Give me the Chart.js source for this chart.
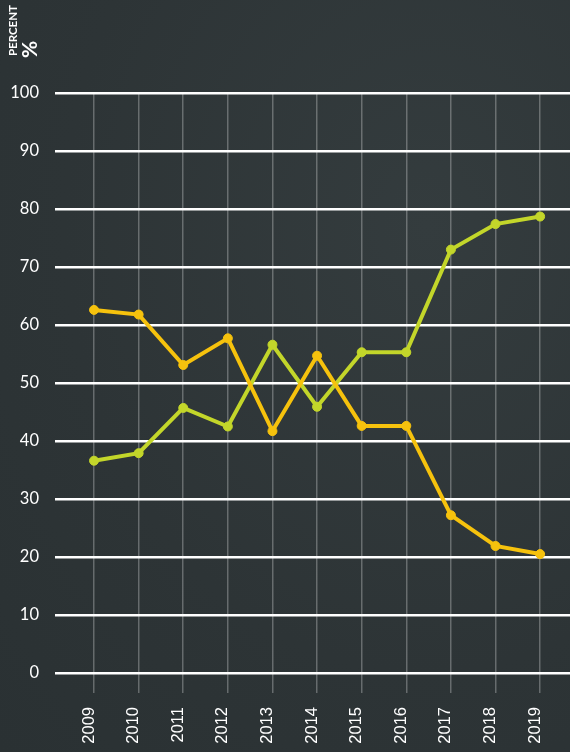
<!DOCTYPE html>
<html lang="en">
<head>
  <meta charset="UTF-8">
  <title>Percent chart</title>
  <style>
    html, body {
      margin: 0;
      padding: 0;
      width: 570px;
      height: 752px;
      overflow: hidden;
      background-color: #2e3538;
      background-image: radial-gradient(ellipse at 75% 30%, #343c3e 0%, #2d3436 60%, #2a3133 100%);
      font-family: 'Lato', sans-serif;
    }
    .chart-box {
      position: absolute;
      left: 0;
      top: 0;
      width: 570px;
      height: 752px;
    }
  </style>
</head>
<body>
  <div class="chart-box">
    <canvas id="percentChart" width="570" height="752"></canvas>
  </div>

  <script src="https://cdn.jsdelivr.net/npm/chart.js"></script>
  <script>
    const years = [2009, 2010, 2011, 2012, 2013, 2014, 2015, 2016, 2017, 2018, 2019];
    const orangeValues = [62.6, 61.8, 53.1, 57.7, 41.7, 54.7, 42.6, 42.6, 27.2, 21.9, 20.5];
    const greenValues = [36.6, 37.9, 45.7, 42.5, 56.6, 45.9, 55.3, 55.3, 73.0, 77.4, 78.7];
    const yTicks = [0, 10, 20, 30, 40, 50, 60, 70, 80, 90, 100];

    const orange = '#f6c20d';
    const green = '#c3d62a';

    // small rotated "PERCENT %" caption top left
    const unitLabel = {
      id: 'unitLabel',
      afterDraw(chart) {
        const ctx = chart.ctx;
        ctx.save();
        ctx.fillStyle = '#ffffff';
        ctx.textBaseline = 'middle';
        ctx.textAlign = 'left';
        ctx.translate(13, 56);
        ctx.rotate(-Math.PI / 2);
        ctx.font = 'bold 11.5px Lato';
        ctx.fillText('PERCENT', 0, 0);
        ctx.restore();

        ctx.save();
        ctx.fillStyle = '#ffffff';
        ctx.textBaseline = 'middle';
        ctx.textAlign = 'left';
        ctx.translate(30, 58);
        ctx.rotate(-Math.PI / 2);
        ctx.font = 'bold 21px Lato';
        ctx.fillText('%', 0, 0);
        ctx.restore();
      }
    };

    const ctx = document.getElementById('percentChart').getContext('2d');
    new Chart(ctx, {
      type: 'line',
      data: {
        datasets: [{
          data: orangeValues.map((v, i) => ({ x: years[i], y: v })),
          borderColor: orange,
          backgroundColor: orange,
          pointBackgroundColor: orange,
          pointBorderColor: orange,
          borderWidth: 4,
          pointRadius: 4.5,
          pointBorderWidth: 1,
          tension: 0
        }, {
          data: greenValues.map((v, i) => ({ x: years[i], y: v })),
          borderColor: green,
          backgroundColor: green,
          pointBackgroundColor: green,
          pointBorderColor: green,
          borderWidth: 4,
          pointRadius: 4.5,
          pointBorderWidth: 1,
          tension: 0
        }]
      },
      options: {
        responsive: false,
        animation: false,
        devicePixelRatio: 1,
        layout: { autoPadding: false, padding: { top: 93, left: 0, right: 0, bottom: 0 } },
        plugins: {
          legend: { display: false },
          tooltip: { enabled: false }
        },
        scales: {
          x: {
            type: 'linear',
            min: 2008.125,
            max: 2019.67,
            afterBuildTicks(scale) {
              scale.ticks = years.map(y => ({ value: y }));
            },
            afterFit(scale) {
              scale.height = 59;
              scale.paddingLeft = 0;
              scale.paddingRight = 0;
            },
            border: { display: false },
            grid: {
              color: 'rgba(255,255,255,0.28)',
              lineWidth: 1.5,
              drawTicks: false
            },
            ticks: {
              color: '#ffffff',
              font: { family: 'Liberation Sans', size: 16.5 },
              padding: 14,
              labelOffset: -5,
              minRotation: 90,
              maxRotation: 90,
              autoSkip: false,
              callback: v => String(v)
            }
          },
          y: {
            min: -3.45,
            max: 100,
            afterBuildTicks(scale) {
              scale.ticks = yTicks.map(v => ({ value: v }));
            },
            afterFit(scale) {
              scale.width = 55;
            },
            border: { display: false },
            grid: {
              color: '#ffffff',
              lineWidth: 2.5,
              drawTicks: false
            },
            ticks: {
              color: '#ffffff',
              font: { family: 'Lato', size: 16.5 },
              padding: 16,
              callback: v => String(v)
            }
          }
        }
      },
      plugins: [unitLabel]
    });
  </script>
</body>
</html>
